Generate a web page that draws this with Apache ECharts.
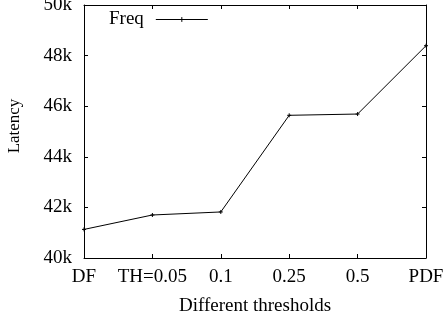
<!DOCTYPE html>
<html><head><meta charset="utf-8">
<script src="https://cdn.jsdelivr.net/npm/echarts@6/dist/echarts.min.js"></script>
<style>html,body{margin:0;padding:0;background:#fff}#c{width:446px;height:318px}</style>
</head><body><div id="c"></div>
<script>
const categories = ['DF', 'TH=0.05', '0.1', '0.25', '0.5', 'PDF'];
const freqValues = [41130, 41700, 41820, 45640, 45690, 48390];
const yMin = 40000, yMax = 50000, yStep = 2000;
const seriesName = 'Freq';
const xTitle = 'Different thresholds';
const yTitle = 'Latency';

const font = 'Liberation Serif';
const fs = 19;
const chart = echarts.init(document.getElementById('c'), null, {renderer: 'canvas'});
const axisLine = {show: true, lineStyle: {color: '#000', width: 1}};
const tick = {show: true, inside: true, length: 4, lineStyle: {color: '#000', width: 1}};
chart.setOption({
  animation: false,
  backgroundColor: '#fff',
  grid: {left: 84, right: 20, top: 5, bottom: 60, outerBoundsMode: 'none', containLabel: false},
  legend: {
    show: true, left: 104, top: 5, align: 'right', itemWidth: 52, itemHeight: 6, itemGap: 10,
    textStyle: {fontFamily: font, fontSize: fs, color: '#000', padding: [0, 7, 0, 0]},
    lineStyle: {width: 1, color: '#000'},
    itemStyle: {color: '#000', borderWidth: 1},
    data: [seriesName]
  },
  graphic: [{
    type: 'text', x: 15, y: 126, rotation: Math.PI / 2,
    style: {text: yTitle, fontFamily: font, fontSize: 17, fill: '#000', align: 'center', verticalAlign: 'middle'}
  }],
  xAxis: [{
    type: 'category', data: categories, boundaryGap: false, position: 'bottom',
    axisLine, axisTick: tick,
    axisLabel: {fontFamily: font, fontSize: fs, color: '#000', margin: 10, interval: 0},
    name: xTitle, nameLocation: 'middle', nameGap: 39,
    nameTextStyle: {fontFamily: font, fontSize: fs, color: '#000'},
    splitLine: {show: false}
  }, {
    type: 'category', data: categories, boundaryGap: false, position: 'top',
    axisLine, axisTick: tick, axisLabel: {show: false}, splitLine: {show: false}
  }],
  yAxis: [{
    type: 'value', min: yMin, max: yMax, interval: yStep, position: 'left',
    axisLine, axisTick: tick,
    axisLabel: {fontFamily: font, fontSize: fs, color: '#000', margin: 12, formatter: v => (v / 1000) + 'k'},
    splitLine: {show: false}
  }, {
    type: 'value', min: yMin, max: yMax, interval: yStep, position: 'right',
    axisLine, axisTick: tick, axisLabel: {show: false}, splitLine: {show: false}
  }],
  series: [{
    name: seriesName, type: 'line', data: freqValues,
    xAxisIndex: 0, yAxisIndex: 0,
    symbol: 'path://M0,2L4,2M2,0L2,4', symbolSize: 4, showSymbol: true,
    itemStyle: {color: '#000', borderColor: '#000', borderWidth: 1},
    lineStyle: {color: '#000', width: 1}
  }]
});
</script></body></html>
